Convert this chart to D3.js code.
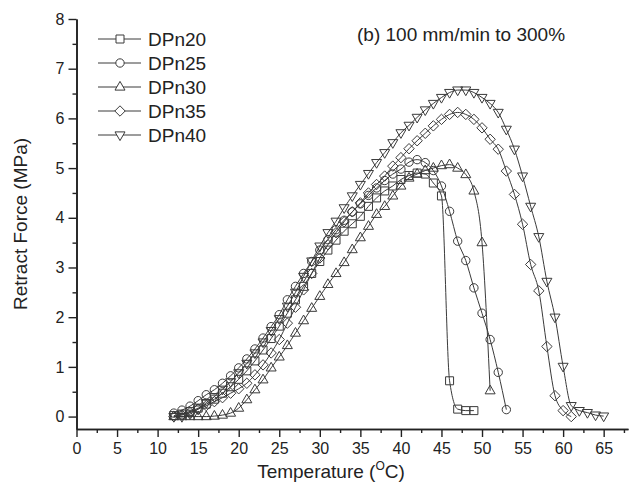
<!DOCTYPE html>
<html>
<head>
<meta charset="utf-8">
<script src="https://cdn.jsdelivr.net/npm/d3@7"></script>
<style>
  html, body { margin: 0; padding: 0; background: #fff; }
  svg { display: block; font-family: Arial, "Liberation Sans", sans-serif; }
</style>
</head>
<body>
<svg id="chart" width="629" height="487"></svg>
<script>
// ---------- data ----------
const seriesNames = ["DPn20", "DPn25", "DPn30", "DPn35", "DPn40"];
const seriesSymbols = ["square", "circle", "triangle", "diamond", "triangleDown"];

const temp20 = d3.range(12, 50);
const force20 = [0.02,0.05,0.1,0.17,0.25,0.35,0.47,0.6,0.75,0.92,1.12,1.34,1.57,1.82,2.08,2.35,2.62,2.88,3.12,3.35,3.55,3.73,3.88,4.03,4.23,4.4,4.54,4.64,4.77,4.85,4.9,4.88,4.7,4.44,0.72,0.15,0.12,0.12];

const temp25 = d3.range(12, 54);
const force25 = [0.07,0.13,0.21,0.32,0.44,0.54,0.67,0.82,0.98,1.16,1.36,1.58,1.81,2.05,2.35,2.62,2.88,3.12,3.35,3.56,3.76,3.95,4.12,4.28,4.45,4.6,4.75,4.88,4.98,5.12,5.17,5.11,4.95,4.64,4.13,3.53,3.14,2.59,2.08,1.55,0.89,0.14];

const temp30 = d3.range(12, 52);
const force30 = [0,0,0,0,0,0.01,0.03,0.07,0.17,0.34,0.54,0.74,0.98,1.2,1.43,1.68,1.93,2.18,2.42,2.66,2.88,3.1,3.36,3.6,3.83,4.07,4.23,4.44,4.64,4.8,4.88,4.95,5.0,5.05,5.07,5.0,4.87,4.54,3.5,0.52];

const temp35 = d3.range(12, 62);
const force35 = [0.0,0.03,0.08,0.15,0.22,0.3,0.38,0.47,0.56,0.67,0.84,1.04,1.28,1.55,1.88,2.2,2.55,2.88,3.19,3.46,3.7,3.92,4.12,4.3,4.5,4.67,4.84,5.04,5.21,5.39,5.55,5.7,5.85,5.98,6.08,6.12,6.08,5.98,5.81,5.58,5.38,4.94,4.47,3.87,3.06,2.53,1.41,0.42,0.12,0.0];

const temp40 = d3.range(12, 66);
const force40 = [0,0,0.05,0.15,0.28,0.4,0.55,0.7,0.88,1.07,1.28,1.5,1.73,1.97,2.22,2.5,2.82,3.13,3.43,3.7,3.93,4.2,4.44,4.67,4.89,5.11,5.31,5.51,5.71,5.86,6.02,6.17,6.3,6.42,6.52,6.57,6.57,6.52,6.42,6.3,6.12,5.78,5.38,4.84,4.23,3.62,2.72,2.0,1.01,0.22,0.12,0.08,0.03,0.01];

const xTicks = d3.range(0, 66, 5);
const yTicks = d3.range(0, 9, 1);
const titleText = "(b) 100 mm/min to 300%";
const xLabel = "Temperature (";
const yLabel = "Retract Force  (MPa)";

const allTemps = [temp20, temp25, temp30, temp35, temp40];
const allForces = [force20, force25, force30, force35, force40];

// ---------- layout ----------
const svg = d3.select("#chart");
const ink = "#3a3a3a";
const x = d3.scaleLinear().domain([0, 68]).range([76.5, 628]);
const y = d3.scaleLinear().domain([-0.25, 8]).range([429, 19]);

const xAxis = d3.axisBottom(x).tickValues(xTicks).tickSize(8).tickPadding(6).tickSizeOuter(0);
const xMinor = d3.axisBottom(x).tickValues(d3.range(2.5, 68, 5)).tickSize(4).tickFormat("").tickSizeOuter(0);
const yAxis = d3.axisLeft(y).tickValues(yTicks).tickSize(8).tickPadding(4).tickSizeOuter(0);
const yMinor = d3.axisLeft(y).tickValues(d3.range(0.5, 8, 1)).tickSize(4).tickFormat("").tickSizeOuter(0);

function styleAxis(g) {
  g.select(".domain").attr("stroke", "#222").attr("stroke-width", 1.6);
  g.selectAll(".tick line").attr("stroke", "#222").attr("stroke-width", 1.4);
  g.selectAll(".tick text").attr("fill", "#222").style("font-size", "16px")
    .style("font-family", "Arial, 'Liberation Sans', sans-serif");
}

svg.append("g").attr("transform", `translate(0,${y.range()[0]})`).call(xMinor).call(styleAxis);
svg.append("g").attr("transform", `translate(0,${y.range()[0]})`).call(xAxis).call(styleAxis);
svg.append("g").attr("transform", `translate(${x(0)},0)`).call(yMinor).call(styleAxis);
svg.append("g").attr("transform", `translate(${x(0)},0)`).call(yAxis).call(styleAxis);

function symbolPath(type) {
  switch (type) {
    case "square": return "M-4,-4H4V4H-4Z";
    case "circle": return d3.symbol(d3.symbolCircle, 55)();
    case "triangle": return "M0,-5.6L5,3.1L-5,3.1Z";
    case "triangleDown": return "M0,5.6L5,-3.1L-5,-3.1Z";
    case "diamond": return "M0,-5.2L5.2,0L0,5.2L-5.2,0Z";
  }
}

const line = d3.line().x(d => x(d[0])).y(d => y(d[1])).curve(d3.curveMonotoneX);

allTemps.forEach((temps, i) => {
  const pts = temps.map((t, j) => [t, allForces[i][j]]);
  const g = svg.append("g");
  g.append("path").attr("d", line(pts)).attr("fill", "none")
    .attr("stroke", ink).attr("stroke-width", 1);
  g.selectAll("path.m").data(pts).enter().append("path").attr("class", "m")
    .attr("d", symbolPath(seriesSymbols[i]))
    .attr("transform", d => `translate(${x(d[0])},${y(d[1])})`)
    .attr("fill", "none").attr("stroke", ink).attr("stroke-width", 1);
});

// legend
const leg = svg.append("g");
seriesNames.forEach((name, i) => {
  const cy = 39 + i * 24;
  leg.append("line").attr("x1", 98).attr("x2", 141).attr("y1", cy).attr("y2", cy)
    .attr("stroke", ink).attr("stroke-width", 1);
  leg.append("path").attr("d", symbolPath(seriesSymbols[i]))
    .attr("transform", `translate(120,${cy})`)
    .attr("fill", "#fff").attr("stroke", ink).attr("stroke-width", 1);
  leg.append("text").attr("x", 148).attr("y", cy + 6.5).text(name)
    .style("font-size", "19px").attr("fill", "#222");
});

// title
svg.append("text").attr("x", 357).attr("y", 41).text(titleText)
  .style("font-size", "19px").attr("fill", "#222");

// x label
const xl = svg.append("text").attr("x", 331).attr("y", 478).attr("text-anchor", "middle")
  .style("font-size", "19px").attr("fill", "#222");
xl.append("tspan").text(xLabel);
xl.append("tspan").text("O").style("font-size", "12px").attr("dy", -8);
xl.append("tspan").text("C)").attr("dy", 8);

// y label
svg.append("text").attr("transform", "translate(27,224) rotate(-90)")
  .attr("text-anchor", "middle").text(yLabel)
  .style("font-size", "19px").attr("fill", "#222");
</script>
</body>
</html>
